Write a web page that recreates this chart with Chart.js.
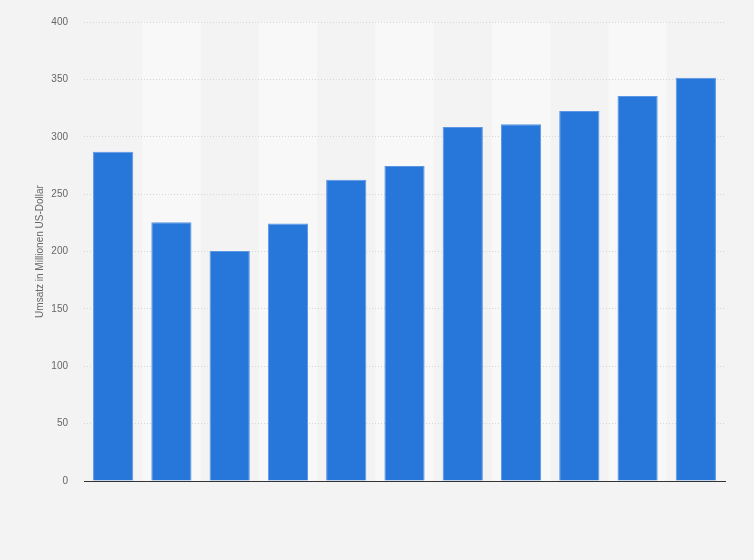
<!DOCTYPE html>
<html>
<head>
<meta charset="utf-8">
<script src="https://cdn.jsdelivr.net/npm/chart.js@4/dist/chart.umd.min.js"></script>
<style>
  html, body { margin: 0; padding: 0; background: #f3f3f3; }
  #wrap { width: 754px; height: 560px; }
</style>
</head>
<body>
<div id="wrap"><canvas id="c" width="754" height="560"></canvas></div>
<script>
const categories = ['1', '2', '3', '4', '5', '6', '7', '8', '9', '10', '11'];
const revenue = [287, 225.5, 200.5, 224.5, 262.5, 274.5, 308.5, 311, 322.5, 335.5, 351.5];
const yTicks = [0, 50, 100, 150, 200, 250, 300, 350, 400];
const yTitle = 'Umsatz in Millionen US-Dollar';

const bandPlugin = {
  id: 'bands',
  beforeDraw(chart) {
    const { ctx, chartArea, scales } = chart;
    ctx.save();
    ctx.fillStyle = '#f3f3f3';
    ctx.fillRect(0, 0, chart.width, chart.height);
    const xs = scales.x;
    const w = chartArea.width / categories.length;
    ctx.fillStyle = '#f8f8f8';
    categories.forEach((c, i) => {
      if (i % 2 === 1) {
        const cx = xs.getPixelForValue(i);
        ctx.fillRect(cx - w / 2, chartArea.top, w, chartArea.bottom - chartArea.top);
      }
    });
    ctx.restore();
  }
};

new Chart(document.getElementById('c'), {
  type: 'bar',
  data: {
    labels: categories,
    datasets: [{
      data: revenue,
      backgroundColor: '#2776da',
      borderColor: '#5a96e4',
      borderWidth: 1,
      barPercentage: 0.69,
      categoryPercentage: 1.0
    }]
  },
  options: {
    responsive: false,
    animation: false,
    devicePixelRatio: 1,
    layout: { padding: { left: 0, right: 29, top: 21, bottom: 79 } },
    plugins: { legend: { display: false }, tooltip: { enabled: false } },
    scales: {
      x: {
        grid: { display: false, drawTicks: false },
        border: { display: true, color: '#333333', width: 1 },
        ticks: { display: false }
      },
      y: {
        min: 0, max: 400,
        afterFit(scale) { scale.width = 84; },
        afterBuildTicks(scale) { scale.ticks = yTicks.map(v => ({ value: v })); },
        grid: { color: '#d6d6d6', drawTicks: false, lineWidth: 1 },
        border: { display: false, dash: [1, 2] },
        ticks: {
          padding: 16,
          color: '#666666',
          font: { family: 'Arial, "Liberation Sans", sans-serif', size: 10 }
        },
        title: {
          display: true,
          text: yTitle,
          color: '#666666',
          padding: { top: 34, bottom: 0 },
          font: { family: 'Arial, "Liberation Sans", sans-serif', size: 10 }
        }
      }
    }
  },
  plugins: [bandPlugin]
});
</script>
</body>
</html>
